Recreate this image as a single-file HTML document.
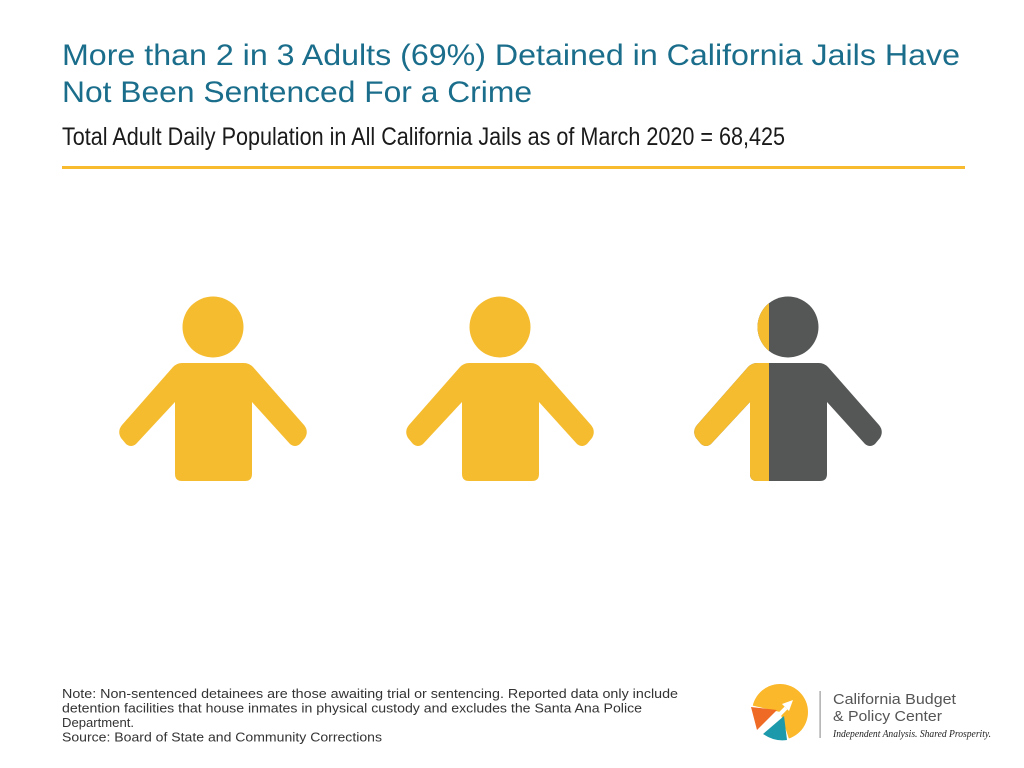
<!DOCTYPE html>
<html>
<head>
<meta charset="utf-8">
<style>
  html, body { margin: 0; padding: 0; background: #ffffff; }
  svg { display: block; }
</style>
</head>
<body>
<svg width="1024" height="768" viewBox="0 0 1024 768" xmlns="http://www.w3.org/2000/svg">
  <rect width="1024" height="768" fill="#ffffff"/>
  <defs>
    <path id="body" d="M -31 363 L 31 363 Q 36 363 40 367 L 91 425 Q 96 431 92 438 L 87 444 Q 82 448 77 444 L 39 402 L 39 474 Q 39 481 32 481 L -31 481 Q -38 481 -38 474 L -38 402 L -77 444 Q -82 448 -87 444 L -92 438 Q -96 431 -91 425 L -40 367 Q -36 363 -31 363 Z"/>
    <clipPath id="leftpart">
      <rect x="0" y="0" width="769" height="768"/>
    </clipPath>
  </defs>

  <!-- Title -->
  <text x="62" y="65" font-family="Liberation Sans, sans-serif" font-size="30" fill="#1b6e8b" textLength="898" lengthAdjust="spacingAndGlyphs">More than 2 in 3 Adults (69%) Detained in California Jails Have</text>
  <text x="62" y="102" font-family="Liberation Sans, sans-serif" font-size="30" fill="#1b6e8b" textLength="470" lengthAdjust="spacingAndGlyphs">Not Been Sentenced For a Crime</text>
  <text x="62" y="145" font-family="Liberation Sans, sans-serif" font-size="25" fill="#1a1a1a" textLength="723" lengthAdjust="spacingAndGlyphs">Total Adult Daily Population in All California Jails as of March 2020 = 68,425</text>
  <rect x="62" y="166" width="903" height="3" fill="#f8bb2f"/>

  <!-- Figure 1 -->
  <g transform="translate(213,0)" fill="#f5bc30">
    <circle cx="0" cy="327" r="30.5"/>
    <use href="#body"/>
  </g>
  <!-- Figure 2 -->
  <g transform="translate(500,0)" fill="#f5bc30">
    <circle cx="0" cy="327" r="30.5"/>
    <use href="#body"/>
  </g>
  <!-- Figure 3 -->
  <g transform="translate(788,0)" fill="#555756">
    <circle cx="0" cy="327" r="30.5"/>
    <use href="#body"/>
  </g>
  <g clip-path="url(#leftpart)">
    <g transform="translate(788,0)" fill="#f5bc30">
      <circle cx="0" cy="327" r="30.5"/>
      <use href="#body"/>
    </g>
  </g>

  <!-- Footer note -->
  <g font-family="Liberation Sans, sans-serif" font-size="13" fill="#333333">
    <text x="62" y="698" textLength="616" lengthAdjust="spacingAndGlyphs">Note: Non-sentenced detainees are those awaiting trial or sentencing. Reported data only include</text>
    <text x="62" y="712.5" textLength="580" lengthAdjust="spacingAndGlyphs">detention facilities that house inmates in physical custody and excludes the Santa Ana Police</text>
    <text x="62" y="727" textLength="72" lengthAdjust="spacingAndGlyphs">Department.</text>
    <text x="62" y="741.5" textLength="320" lengthAdjust="spacingAndGlyphs">Source: Board of State and Community Corrections</text>
  </g>

  <!-- Logo -->
  <g>
    <circle cx="780" cy="712" r="28" fill="#fbb82a"/>
    <!-- lower-left wedge cut -->
    <path d="M 780 712 L 750 705 L 752 740 L 790 742 Z" fill="#ffffff"/>
    <polygon points="751,707 777,710 757,730" fill="#ef6a25"/>
    <path d="M 763 734 L 784 716 L 787 740 Q 775 742 763 734 Z" fill="#1c9aab"/>
    <!-- white arrow -->
    <line x1="757" y1="737" x2="786" y2="708" stroke="#ffffff" stroke-width="4"/>
    <polygon points="793,700 782,704 789,711" fill="#ffffff"/>
    <rect x="819.5" y="691" width="1.2" height="47" fill="#9a9a9a"/>
    <text x="833" y="704" font-family="Liberation Sans, sans-serif" font-size="15" fill="#555555" textLength="123" lengthAdjust="spacingAndGlyphs">California Budget</text>
    <text x="833" y="721" font-family="Liberation Sans, sans-serif" font-size="15" fill="#555555" textLength="109" lengthAdjust="spacingAndGlyphs">&amp; Policy Center</text>
    <text x="833" y="737" font-family="Liberation Serif, serif" font-style="italic" font-size="10.5" fill="#222222" textLength="158" lengthAdjust="spacingAndGlyphs">Independent Analysis. Shared Prosperity.</text>
  </g>
</svg>
</body>
</html>
